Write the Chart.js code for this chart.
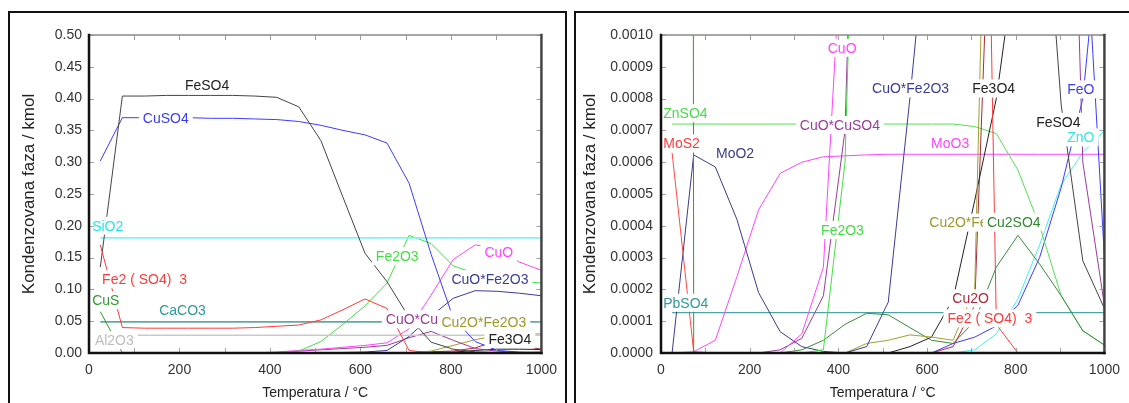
<!DOCTYPE html>
<html>
<head>
<meta charset="utf-8">
<script src="https://cdn.jsdelivr.net/npm/chart.js"></script>
<style>
  html, body { margin: 0; padding: 0; background: #fff; }
  body { width: 1129px; height: 403px; position: relative; overflow: hidden; }
  .holder { position: absolute; top: 0; height: 403px; }
  .panel-border { position: absolute; border: 2px solid #111; border-bottom: none; pointer-events: none; }
</style>
</head>
<body>
<div class="holder" style="left:0; width:566px;"><canvas id="chart-main"></canvas></div>
<div class="holder" style="left:575px; width:554px;"><canvas id="chart-trace"></canvas></div>
<div class="panel-border" style="left:8px; top:11px; width:555px; height:400px;"></div>
<div class="panel-border" style="left:574px; top:11px; width:600px; height:400px;"></div>
<script>
// temperature points of the equilibrium calculation, deg C
const temperatures = [25, 73.75, 122.5, 171.25, 220, 268.75, 317.5, 366.25, 415, 463.75, 512.5, 561.25, 610, 658.75, 707.5, 756.25, 805, 853.75, 902.5, 951.25, 1000];

// condensed phases, kmol
const feSO4 = [0.135, 0.404, 0.404, 0.405, 0.405, 0.405, 0.405, 0.404, 0.402, 0.387, 0.334, 0.245, 0.157, 0.112, 0.056, 0.017, 0.006, 0.0017, 0.00078, 0.00029, 0.00014];
const cuSO4 = [0.302, 0.370, 0.370, 0.370, 0.370, 0.369, 0.369, 0.368, 0.367, 0.364, 0.358, 0.350, 0.343, 0.330, 0.267, 0.155, 0.055, 0.018, 0.004, 0.0015, 0.0003];
const siO2 = [0.181, 0.181, 0.181, 0.181, 0.181, 0.181, 0.181, 0.181, 0.181, 0.181, 0.181, 0.181, 0.181, 0.181, 0.181, 0.181, 0.181, 0.181, 0.181, 0.181, 0.181];
const fe2SO43 = [0.170, 0.040, 0.039, 0.039, 0.039, 0.039, 0.039, 0.040, 0.042, 0.044, 0.052, 0.068, 0.085, 0.070, 0.004, 0.00009, 0, 0, 0, 0, 0];
const cuS = [0.065, 0, 0, 0, 0, 0, 0, 0, 0, 0, 0, 0, 0, 0, 0, 0, 0, 0, 0, 0, 0];
const caCO3 = [0.049, 0.049, 0.049, 0.049, 0.049, 0.049, 0.049, 0.049, 0.049, 0.049, 0.049, 0.049, 0.049, 0.049, 0.049, 0.049, 0.049, 0.049, 0.049, 0.049, 0.049];
const al2O3 = [0.028, 0.028, 0.028, 0.028, 0.028, 0.028, 0.028, 0.028, 0.028, 0.028, 0.028, 0.028, 0.028, 0.028, 0.028, 0.028, 0.028, 0.028, 0.028, 0.028, 0.028];
const fe2O3 = [0, 0, 0, 0, 0, 0, 0, 0.00001, 0.0006, 0.003, 0.018, 0.045, 0.074, 0.110, 0.185, 0.172, 0.137, 0.125, 0.118, 0.113, 0.110];
const cuO = [0, 0, 0, 0, 0, 0, 0.00006, 0.00027, 0.0015, 0.004, 0.006, 0.009, 0.012, 0.016, 0.038, 0.091, 0.147, 0.170, 0.165, 0.143, 0.130];
const cuOFe2O3 = [0, 0, 0, 0, 0, 0, 0, 0, 0, 0.00002, 0.00016, 0.0008, 0.0015, 0.004, 0.026, 0.058, 0.086, 0.098, 0.097, 0.094, 0.090];
const cuOCuSO4 = [0, 0, 0, 0, 0, 0.00001, 0.000046, 0.00018, 0.0007, 0.003, 0.005, 0.007, 0.009, 0.012, 0.024, 0.034, 0.020, 0.007, 0.003, 0.0006, 0.00015];
const cu2OFe2O3 = [0, 0, 0, 0, 0, 0, 0, 0, 0, 0.00003, 0.00004, 0.000057, 0.00005, 0.00004, 0.0002, 0.003, 0.012, 0.021, 0.027, 0.030, 0.030];
const fe3O4 = [0, 0, 0, 0, 0, 0, 0, 0, 0, 0, 0, 0.00002, 0.00005, 0.00017, 0.00048, 0.0008, 0.0013, 0.004, 0.006, 0.006, 0.0055];
const cu2O = [0, 0, 0, 0, 0, 0, 0, 0, 0, 0, 0, 0, 0, 0.00002, 0.00015, 0.002, 0.003, 0.008, 0.020, 0.012, 0.006];
const cu2SO4 = [0, 0, 0, 0, 0, 0, 0.00001, 0.00004, 0.00009, 0.000125, 0.00012, 0.00008, 0.00004, 0.00003, 0.0001, 0.00027, 0.00037, 0.00028, 0.00018, 0.00007, 0.000025];
const znSO4 = [0.00072, 0.00072, 0.00072, 0.00072, 0.00072, 0.00072, 0.00072, 0.00072, 0.00072, 0.00072, 0.00072, 0.00072, 0.00072, 0.00072, 0.000712, 0.00069, 0.000575, 0.0004, 0.00018, 0.00007, 0.000025];
const moS2 = [0.00063, 0.000004, 0, 0, 0, 0, 0, 0, 0, 0, 0, 0, 0, 0, 0, 0, 0, 0, 0, 0, 0];
const moO2 = [0, 0.000623, 0.000585, 0.00042, 0.00019, 0.000067, 0.00002, 0.000005, 0, 0, 0, 0, 0, 0, 0, 0, 0, 0, 0, 0, 0];
const moO3 = [0, 0.000004, 0.00004, 0.00024, 0.00045, 0.000565, 0.0006, 0.000617, 0.00062, 0.000623, 0.000625, 0.000625, 0.000625, 0.000625, 0.000625, 0.000625, 0.000625, 0.000625, 0.000625, 0.000625, 0.000625];
const pbSO4 = [0.000127, 0.000127, 0.000127, 0.000127, 0.000127, 0.000127, 0.000127, 0.000127, 0.000127, 0.000127, 0.000127, 0.000127, 0.000127, 0.000127, 0.000127, 0.000127, 0.000127, 0.000127, 0.000127, 0.000127, 0.000127];
const feO = [0, 0, 0, 0, 0, 0, 0, 0, 0, 0, 0, 0, 0, 0.00003, 0.00005, 0.000085, 0.00015, 0.0003, 0.00052, 0.0008, 0.0015];
const znO = [0, 0, 0, 0, 0, 0, 0, 0, 0, 0, 0, 0, 0, 0, 0.00001, 0.00006, 0.00017, 0.00034, 0.00053, 0.00063, 0.0007];

// axis ticks
const xTicks = [0, 200, 400, 600, 800, 1000];
const xMinorTicks = [100, 200, 300, 400, 500, 600, 700, 800, 900];
const yTicksMain = [0, 0.05, 0.10, 0.15, 0.20, 0.25, 0.30, 0.35, 0.40, 0.45, 0.50];
const yTicksTrace = [0, 0.0001, 0.0002, 0.0003, 0.0004, 0.0005, 0.0006, 0.0007, 0.0008, 0.0009, 0.0010];

const FONT = '"Liberation Sans", Arial, sans-serif';

const series = [
  { values: fe2SO43, color: '#ff3b3b' },
  { values: feSO4, color: '#444444' },
  { values: cuSO4, color: '#3b3bff' },
  { values: siO2, color: '#80f4f4', width: 1.6 },
  { values: cuS, color: '#2f9a2f' },
  { values: caCO3, color: '#62a8a8', width: 1.6 },
  { values: al2O3, color: '#c9c9c9', width: 1.4 },
  { values: fe2O3, color: '#44dd44' },
  { values: cuO, color: '#ff44ff' },
  { values: cuOFe2O3, color: '#3b3b99' },
  { values: cuOCuSO4, color: '#9b3b9b' },
  { values: cu2OFe2O3, color: '#a0a030' },
  { values: fe3O4, color: '#222222' },
  { values: cu2O, color: '#aa2a3a' },
  { values: cu2SO4, color: '#3b8a3b' },
  { values: znSO4, color: '#55e055' },
  { values: moS2, color: '#ff4a4a' },
  { values: moO2, color: '#3b3b88' },
  { values: moO3, color: '#ff44ff' },
  { values: pbSO4, color: '#4aa6a6', width: 1.3 },
  { values: feO, color: '#3b3bff' },
  { values: znO, color: '#44eeee' }
];

// phase names written on the plots: text, temperature of the left edge, value, colour
const mainLabels = [
  ['FeSO4', 212, 0.421, '#222'],
  ['CuSO4', 119, 0.369, '#3b3bff'],
  ['SiO2', 7, 0.200, '#22e6e6'],
  ['Fe2 ( SO4)  3', 29, 0.116, '#ff3b3b'],
  ['CuS', 7, 0.083, '#2f9a2f'],
  ['CaCO3', 155, 0.068, '#2f9999'],
  ['Al2O3', 13, 0.020, '#bdbdbd'],
  ['Fe2O3', 634, 0.152, '#44dd44'],
  ['CuO', 874, 0.159, '#ff44ff'],
  ['CuO*Fe2O3', 801, 0.116, '#3b3b99'],
  ['CuO*CuSO4', 656, 0.053, '#9b3b9b'],
  ['Cu2O*Fe2O3', 779, 0.049, '#9a9a2a'],
  ['Fe3O4', 883, 0.022, '#222']
];
const traceLabels = [
  ['ZnSO4', 5, 0.000754, '#44dd44'],
  ['MoS2', 5, 0.000659, '#ff3b3b'],
  ['MoO2', 124, 0.00063, '#3b3b88'],
  ['PbSO4', 5, 0.000158, '#2f9999'],
  ['CuO', 376, 0.00096, '#ff44ff'],
  ['CuO*CuSO4', 313, 0.000717, '#9b3b9b'],
  ['Fe2O3', 361, 0.000387, '#44dd44'],
  ['CuO*Fe2O3', 476, 0.000832, '#3b3b99'],
  ['Fe3O4', 702, 0.000832, '#222'],
  ['MoO3', 609, 0.00066, '#ff44ff'],
  ['FeO', 916, 0.000829, '#3b3bff'],
  ['FeSO4', 846, 0.000727, '#222'],
  ['ZnO', 916, 0.000678, '#33e6e6'],
  ['Cu2O*Fe2O3', 605, 0.00041, '#9a9a2a'],
  ['Cu2SO4', 735, 0.000413, '#2f8a2f'],
  ['Cu2O', 657, 0.000172, '#aa2a3a'],
  ['Fe2 ( SO4)  3', 646, 0.000109, '#ff3b3b']
];

const phaseLabels = {
  id: 'phaseLabels',
  afterDatasetsDraw(chart, args, opts) {
    const { ctx, scales: { x, y } } = chart;
    ctx.save();
    ctx.font = '14px ' + FONT;
    ctx.textBaseline = 'middle';
    ctx.textAlign = 'left';
    opts.items.forEach(([text, t, v, color]) => {
      const px = x.getPixelForValue(t);
      const py = y.getPixelForValue(v);
      const w = ctx.measureText(text).width;
      ctx.fillStyle = '#fff';
      ctx.fillRect(px - 4, py - 9, w + 8, 18);
      ctx.fillStyle = color;
      ctx.fillText(text, px, py + 1);
    });
    ctx.restore();
  }
};

const plotFrame = {
  id: 'plotFrame',
  afterDraw(chart, args, opts) {
    const { ctx, chartArea: a, scales: { x, y } } = chart;
    ctx.save();
    ctx.strokeStyle = '#a0a0a0';
    ctx.lineWidth = 1;
    ctx.beginPath();
    xMinorTicks.forEach(v => {
      const px = Math.round(x.getPixelForValue(v)) + 0.5;
      ctx.moveTo(px, a.top); ctx.lineTo(px, a.top + 5);
      ctx.moveTo(px, a.bottom); ctx.lineTo(px, a.bottom - 5);
    });
    opts.yTicks.forEach(v => {
      const py = Math.round(y.getPixelForValue(v)) + 0.5;
      ctx.moveTo(a.right, py); ctx.lineTo(a.right - 5, py);
      ctx.moveTo(a.left, py); ctx.lineTo(a.left + 5, py);
    });
    ctx.stroke();

    ctx.lineCap = 'square';
    ctx.strokeStyle = '#8a8a8a';
    ctx.lineWidth = 1.5;
    ctx.beginPath(); ctx.moveTo(a.left, a.top); ctx.lineTo(a.right, a.top); ctx.stroke();
    ctx.strokeStyle = '#444';
    ctx.lineWidth = 2.5;
    ctx.beginPath(); ctx.moveTo(a.right, a.top); ctx.lineTo(a.right, a.bottom); ctx.stroke();
    ctx.strokeStyle = '#111';
    ctx.beginPath(); ctx.moveTo(a.left, a.top); ctx.lineTo(a.left, a.bottom); ctx.lineTo(a.right, a.bottom); ctx.stroke();
    ctx.restore();
  }
};

function makeDatasets() {
  return series.map(s => ({
    data: temperatures.map((t, i) => ({ x: t, y: s.values[i] })),
    borderColor: s.color,
    borderWidth: s.width || 1,
    pointRadius: 0,
    tension: 0,
    fill: false
  }));
}

function buildChart(canvasId, cfg) {
  return new Chart(document.getElementById(canvasId), {
    type: 'line',
    data: { datasets: makeDatasets() },
    options: {
      animation: false,
      responsive: true,
      maintainAspectRatio: false,
      layout: { padding: { top: 35, right: cfg.padRight, bottom: 0, left: 0 } },
      plugins: {
        legend: { display: false },
        tooltip: { enabled: false },
        phaseLabels: { items: cfg.labels },
        plotFrame: { yTicks: cfg.yTicks }
      },
      scales: {
        x: {
          type: 'linear',
          min: 0,
          max: 1000,
          afterBuildTicks: scale => { scale.ticks = xTicks.map(v => ({ value: v })); },
          afterFit: scale => { scale.height = 50; },
          grid: { display: false, drawTicks: false },
          border: { display: false },
          ticks: {
            autoSkip: false,
            maxRotation: 0,
            padding: 9,
            color: '#333',
            font: { family: FONT, size: 14 },
            callback: v => String(v)
          },
          title: {
            display: true,
            text: 'Temperatura / °C',
            color: '#222',
            font: { family: FONT, size: 14 },
            padding: { top: 0, bottom: 1.6 }
          }
        },
        y: {
          type: 'linear',
          min: 0,
          max: cfg.yTicks[cfg.yTicks.length - 1],
          afterBuildTicks: scale => { scale.ticks = cfg.yTicks.map(v => ({ value: v })); },
          afterFit: scale => { scale.width = cfg.yWidth; },
          grid: { display: false, drawTicks: false },
          border: { display: false },
          ticks: {
            autoSkip: false,
            padding: cfg.tickPad,
            color: '#333',
            font: { family: FONT, size: 14 },
            callback: v => Number(v).toFixed(cfg.decimals)
          },
          title: {
            display: true,
            text: 'Kondenzovana faza / kmol',
            color: '#222',
            font: { family: FONT, size: 17 },
            padding: { top: cfg.titlePad, bottom: 0 }
          }
        }
      }
    },
    plugins: [phaseLabels, plotFrame]
  });
}

buildChart('chart-main', {
  yTicks: yTicksMain, decimals: 2, labels: mainLabels,
  yWidth: 89, padRight: 24, tickPad: 7, titlePad: 18.8
});
buildChart('chart-trace', {
  yTicks: yTicksTrace, decimals: 4, labels: traceLabels,
  yWidth: 86, padRight: 17, tickPad: 8, titlePad: 4.8
});
</script>
</body>
</html>
